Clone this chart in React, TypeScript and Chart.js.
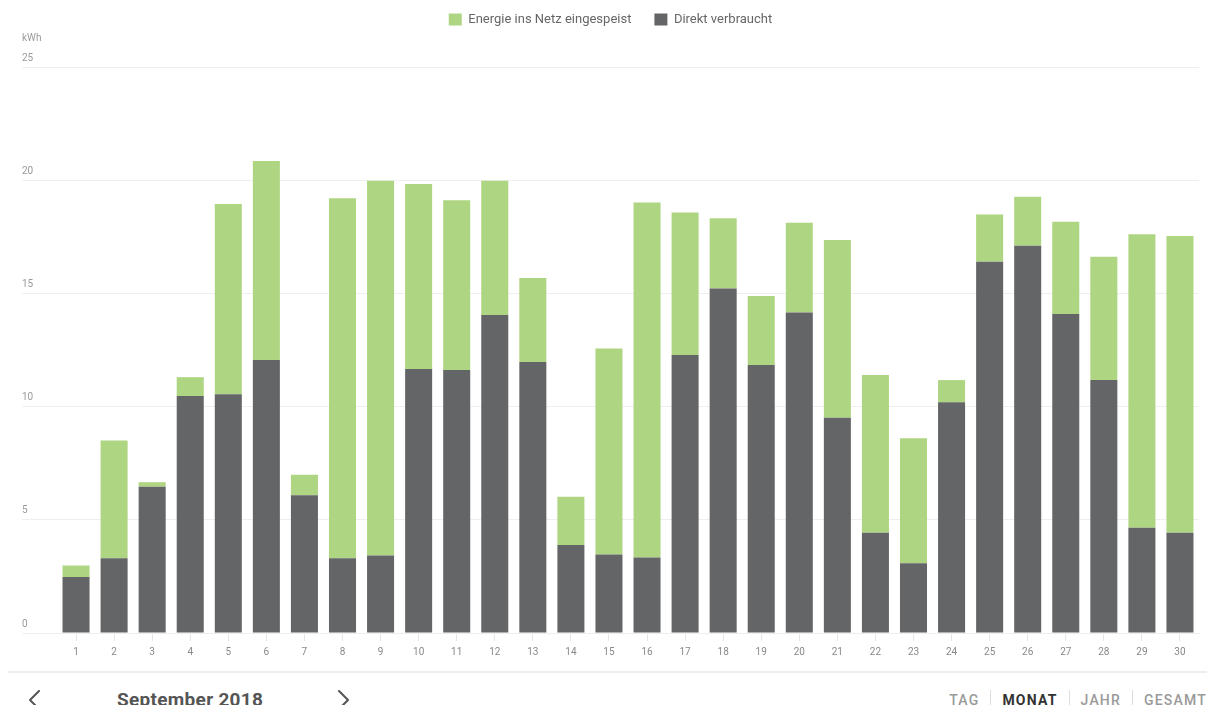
import React, { useEffect, useRef } from "react";
import { Chart, registerables } from "chart.js";

Chart.register(...registerables);

const days: string[] = [
  "1", "2", "3", "4", "5", "6", "7", "8", "9", "10",
  "11", "12", "13", "14", "15", "16", "17", "18", "19", "20",
  "21", "22", "23", "24", "25", "26", "27", "28", "29", "30",
];

// Direkt verbraucht (kWh)
const direktVerbraucht: number[] = [
  2.47, 3.3, 6.46, 10.47, 10.54, 12.06, 6.08, 3.3, 3.42, 11.66,
  11.62, 14.05, 11.97, 3.89, 3.47, 3.33, 12.28, 15.22, 11.84, 14.16,
  9.51, 4.43, 3.08, 10.19, 16.4, 17.11, 14.09, 11.17, 4.65, 4.43,
];

// Energie ins Netz eingespeist (kWh)
const eingespeist: number[] = [
  0.51, 5.2, 0.2, 0.83, 8.41, 8.79, 0.91, 15.9, 16.56, 8.17,
  7.49, 5.93, 3.71, 2.13, 9.1, 15.69, 6.29, 3.1, 3.04, 3.96,
  7.85, 6.97, 5.52, 0.98, 2.09, 2.16, 4.08, 5.45, 12.96, 13.11,
];

const yTicks: number[] = [0, 5, 10, 15, 20, 25];

const GREEN = "#aed581";
const DARK = "#646567";

function Chevron({ dir }: { dir: "left" | "right" }) {
  const pts = dir === "left" ? "12,1 3,10 12,19" : "2,1 11,10 2,19";
  return (
    <svg width="14" height="20" viewBox="0 0 14 20">
      <polyline points={pts} fill="none" stroke="#555" strokeWidth="2" strokeLinecap="round" strokeLinejoin="round" />
    </svg>
  );
}

export default function App() {
  const canvasRef = useRef<HTMLCanvasElement | null>(null);

  useEffect(() => {
    if (!canvasRef.current) return;
    Chart.defaults.font.family = "Roboto, 'Noto Sans', sans-serif";
    const chart = new Chart(canvasRef.current, {
      type: "bar",
      data: {
        labels: days,
        datasets: [
          {
            label: "Direkt verbraucht",
            data: direktVerbraucht,
            backgroundColor: DARK,
            barPercentage: 0.71,
            categoryPercentage: 1,
          },
          {
            label: "Energie ins Netz eingespeist",
            data: eingespeist,
            backgroundColor: GREEN,
            barPercentage: 0.71,
            categoryPercentage: 1,
          },
        ],
      },
      options: {
        animation: false,
        responsive: true,
        maintainAspectRatio: false,
        layout: { padding: { left: 14, right: 8, top: 0, bottom: 5 } },
        plugins: {
          legend: {
            position: "top",
            reverse: true,
            labels: {
              boxWidth: 13,
              boxHeight: 12,
              padding: 23,
              color: "#666",
              font: { size: 13 },
            },
          },
          title: {
            display: true,
            text: "kWh",
            align: "start",
            position: "top",
            weight: 500,
            color: "#999",
            font: { size: 10, weight: "normal", lineHeight: 0.4 },
            padding: { top: 0, bottom: 27 },
          },
          tooltip: { enabled: false },
        },
        scales: {
          x: {
            stacked: true,
            grid: {
              display: true,
              drawOnChartArea: false,
              offset: false,
              tickLength: 8,
              color: "#e6e6e6",
            },
            border: { display: true, color: "#eeeeee" },
            ticks: { color: "#888", font: { size: 10 }, padding: 5, maxRotation: 0 },
          },
          y: {
            stacked: true,
            min: 0,
            max: 25,
            afterFit: (scale: any) => {
              scale.width = 35;
            },
            afterBuildTicks: (scale: any) => {
              scale.ticks = yTicks.map((v) => ({ value: v }));
            },
            grid: { color: "#efefef", tickLength: 35, lineWidth: 1 },
            border: { display: false },
            ticks: {
              color: "#999",
              font: { size: 10 },
              crossAlign: "far",
              labelOffset: -9,
              padding: 0,
            },
          },
        },
      },
    });
    return () => chart.destroy();
  }, []);

  const navItem = (t: string, active: boolean) => (
    <span
      style={{
        color: active ? "#333" : "#9a9a9a",
        fontWeight: active ? 700 : 500,
        letterSpacing: "1.2px",
      }}
    >
      {t}
    </span>
  );
  const sep = <span style={{ display: "inline-block", width: 1, height: 20, background: "#ddd", margin: "0 11px" }} />;

  return (
    <div style={{ position: "relative", width: 1199, height: 697, fontFamily: "Roboto, sans-serif" }}>
      <div style={{ position: "absolute", left: 0, top: -18, width: 1199, height: 678 }}>
        <canvas ref={canvasRef} />
      </div>
      <div style={{ position: "absolute", left: 0, top: 663, width: 1199, borderTop: "2px solid #eeeeee" }} />
      <div style={{ position: "absolute", left: 19, top: 682 }}>
        <Chevron dir="left" />
      </div>
      <div
        style={{
          position: "absolute",
          left: 109,
          top: 680,
          height: 24,
          lineHeight: "24px",
          fontSize: 19,
          fontWeight: 700,
          letterSpacing: "0.3px",
          color: "#555",
        }}
      >
        September 2018
      </div>
      <div style={{ position: "absolute", left: 329, top: 682 }}>
        <Chevron dir="right" />
      </div>
      <div
        style={{
          position: "absolute",
          right: 0,
          top: 680,
          height: 24,
          display: "flex",
          alignItems: "center",
          fontSize: 14,
        }}
      >
        {navItem("TAG", false)}
        {sep}
        {navItem("MONAT", true)}
        {sep}
        {navItem("JAHR", false)}
        {sep}
        {navItem("GESAMT", false)}
      </div>
    </div>
  );
}
